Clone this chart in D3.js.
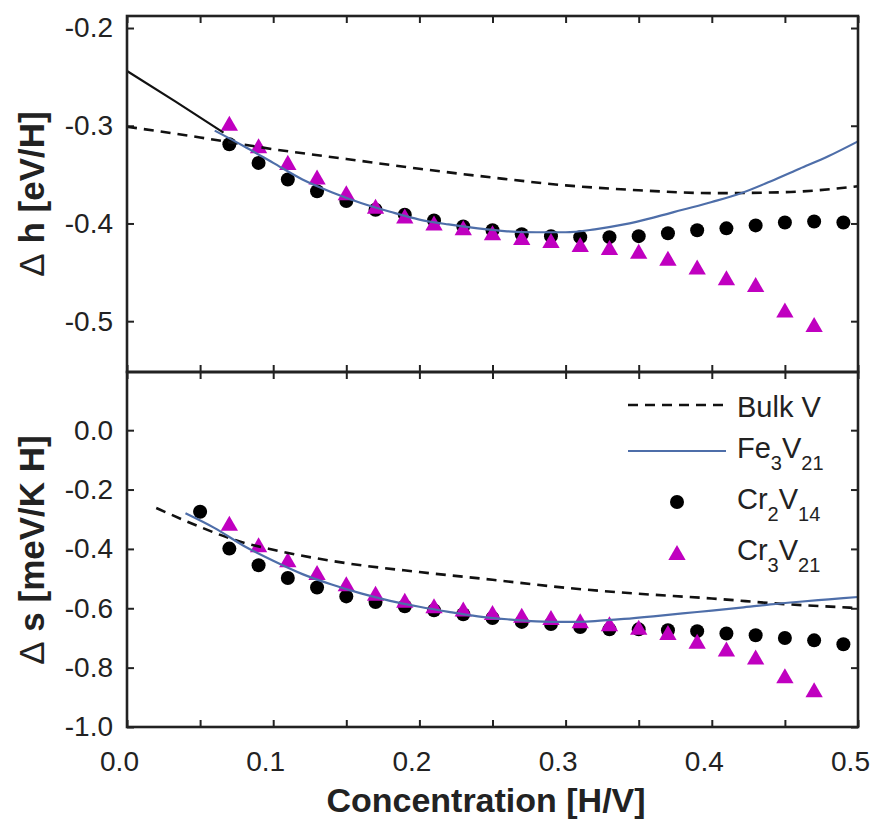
<!DOCTYPE html>
<html lang="en">
<head>
    <meta charset="UTF-8">
    <title>Hydrogen enthalpy and entropy</title>
    <script src="https://cdn.jsdelivr.net/npm/d3@7"></script>
    <style>
        body {
            margin: 0;
            background: #fff;
        }
        svg text {
            font-family: Arial, "Liberation Sans", sans-serif;
            fill: #222;
        }
    </style>
</head>
<body>
    <svg id="chart" width="874" height="821"></svg>

    <script>
        // point concentrations [H/V]
        const xCr2Top = [0.07, 0.09, 0.11, 0.13, 0.15, 0.17, 0.19, 0.21, 0.23, 0.25, 0.27,
                         0.29, 0.31, 0.33, 0.35, 0.37, 0.39, 0.41, 0.43, 0.45, 0.47, 0.49];
        const xCr3Top = [0.07, 0.09, 0.11, 0.13, 0.15, 0.17, 0.19, 0.21, 0.23, 0.25, 0.27,
                         0.29, 0.31, 0.33, 0.35, 0.37, 0.39, 0.41, 0.43, 0.45, 0.47];
        const xCr2Bot = [0.05, 0.07, 0.09, 0.11, 0.13, 0.15, 0.17, 0.19, 0.21, 0.23, 0.25, 0.27,
                         0.29, 0.31, 0.33, 0.35, 0.37, 0.39, 0.41, 0.43, 0.45, 0.47, 0.49];
        const xCr3Bot = xCr3Top;

        // delta h [eV/H]
        const hCr2 = [-0.319, -0.338, -0.355, -0.367, -0.377, -0.386, -0.391, -0.397, -0.403, -0.407, -0.411,
                      -0.413, -0.414, -0.414, -0.413, -0.410, -0.407, -0.405, -0.402, -0.399, -0.398, -0.399];
        const hCr3 = [-0.298, -0.321, -0.338, -0.353, -0.369, -0.383, -0.393, -0.400, -0.405, -0.410, -0.415,
                      -0.418, -0.422, -0.425, -0.429, -0.436, -0.445, -0.456, -0.463, -0.489, -0.504];
        const hBulkX = [0, 0.05, 0.1, 0.15, 0.2, 0.25, 0.3, 0.35, 0.4, 0.45, 0.5];
        const hBulk  = [-0.301, -0.312, -0.324, -0.334, -0.344, -0.353, -0.361, -0.366, -0.369, -0.368, -0.362];
        const hFeX = [0.06, 0.08, 0.10, 0.12, 0.14, 0.16, 0.18, 0.20, 0.22, 0.24, 0.26, 0.28,
                      0.30, 0.32, 0.34, 0.36, 0.38, 0.40, 0.42, 0.44, 0.46, 0.48, 0.50];
        const hFe  = [-0.305, -0.321, -0.338, -0.355, -0.368, -0.379, -0.388, -0.396, -0.401, -0.405, -0.408, -0.409,
                      -0.409, -0.406, -0.401, -0.394, -0.386, -0.378, -0.369, -0.357, -0.344, -0.331, -0.316];
        const hExtX = [0, 0.033, 0.066];
        const hExt  = [-0.244, -0.275, -0.307];

        // delta s [meV/K H]
        const sCr2 = [-0.275, -0.399, -0.455, -0.498, -0.530, -0.560, -0.579, -0.593, -0.607, -0.620, -0.633, -0.646,
                      -0.653, -0.663, -0.671, -0.671, -0.674, -0.677, -0.685, -0.691, -0.700, -0.708, -0.721];
        const sCr3 = [-0.315, -0.388, -0.438, -0.481, -0.519, -0.551, -0.575, -0.593, -0.604, -0.616, -0.625,
                      -0.633, -0.644, -0.654, -0.666, -0.683, -0.713, -0.739, -0.766, -0.829, -0.876];
        const sBulkX = [0.02, 0.05, 0.075, 0.1, 0.15, 0.2, 0.25, 0.3, 0.35, 0.4, 0.45, 0.5];
        const sBulk  = [-0.262, -0.326, -0.372, -0.403, -0.448, -0.478, -0.504, -0.531, -0.551, -0.567, -0.586, -0.599];
        const sFeX = [0.04, 0.06, 0.08, 0.10, 0.12, 0.14, 0.16, 0.18, 0.20, 0.22, 0.24, 0.26,
                      0.28, 0.30, 0.32, 0.34, 0.36, 0.38, 0.40, 0.42, 0.44, 0.46, 0.48, 0.50];
        const sFe  = [-0.280, -0.330, -0.390, -0.440, -0.485, -0.520, -0.550, -0.575, -0.595, -0.612, -0.627, -0.637,
                      -0.644, -0.646, -0.643, -0.636, -0.627, -0.617, -0.608, -0.598, -0.587, -0.578, -0.570, -0.562];

        const xTicks = [0, 0.05, 0.1, 0.15, 0.2, 0.25, 0.3, 0.35, 0.4, 0.45, 0.5];
        const hTicks = [-0.2, -0.3, -0.4, -0.5];
        const sTicks = [0.0, -0.2, -0.4, -0.6, -0.8, -1.0];

        const legendItems = [
            { name: "Bulk V", sub: [], kind: "dash" },
            { name: "Fe", sub: ["3", "V", "21"], kind: "line" },
            { name: "Cr", sub: ["2", "V", "14"], kind: "circle" },
            { name: "Cr", sub: ["3", "V", "21"], kind: "triangle" }
        ];

        const magenta = "#c000c0";
        const blue = "#4e6ea9";
        const ink = "#222";

        const svg = d3.select("#chart");
        const left = 127, right = 858;
        const topPanel = { y0: 16, y1: 372 };
        const botPanel = { y0: 372, y1: 727 };

        const x = d3.scaleLinear().domain([0, 0.5]).range([left, right]);
        const yH = d3.scaleLinear().domain([-0.552, -0.1877]).range([topPanel.y1, topPanel.y0]);
        const yS = d3.scaleLinear().domain([-1.0, 0.196]).range([botPanel.y1, botPanel.y0]);

        const zip = (xs, ys) => xs.map((v, i) => [v, ys[i]]);
        const triSize = 130;

        function drawPanel(panel, y, yTicks, series, showXLabels) {
            const g = svg.append("g");

            // inward ticks on all four sides
            g.append("g")
                .attr("transform", `translate(${left},0)`)
                .call(d3.axisLeft(y).tickValues(yTicks).tickFormat(d3.format(".1f"))
                    .tickSizeInner(-7).tickSizeOuter(0).tickPadding(14))
                .call(a => a.select(".domain").remove());
            g.append("g")
                .attr("transform", `translate(${right},0)`)
                .call(d3.axisRight(y).tickValues(yTicks).tickFormat("")
                    .tickSizeInner(-7).tickSizeOuter(0))
                .call(a => a.select(".domain").remove());
            g.append("g")
                .attr("transform", `translate(0,${panel.y0})`)
                .call(d3.axisTop(x).tickValues(xTicks).tickFormat("")
                    .tickSizeInner(-7).tickSizeOuter(0))
                .call(a => a.select(".domain").remove());
            const xb = g.append("g")
                .attr("transform", `translate(0,${panel.y1})`)
                .call(d3.axisBottom(x).tickValues(xTicks)
                    .tickFormat(d => (showXLabels && Math.round(d * 100) % 10 === 0) ? d3.format(".1f")(d) : "")
                    .tickSizeInner(-7).tickSizeOuter(0).tickPadding(24))
                .call(a => a.select(".domain").remove());
            xb.selectAll("text").attr("dx", -8);

            g.selectAll(".tick line").attr("stroke", ink).attr("stroke-width", 2);
            g.selectAll(".tick text").attr("font-size", 28).attr("fill", ink)
                .attr("font-family", "Arial, 'Liberation Sans', sans-serif");

            const plot = g.append("g");
            const line = d3.line().x(d => x(d[0])).y(d => y(d[1])).curve(d3.curveMonotoneX);

            // markers first, curves on top
            plot.selectAll("circle")
                .data(series.circles)
                .join("circle")
                .attr("cx", d => x(d[0]))
                .attr("cy", d => y(d[1]))
                .attr("r", 7)
                .attr("fill", "#000");
            plot.selectAll("path.tri")
                .data(series.triangles)
                .join("path")
                .attr("class", "tri")
                .attr("d", d3.symbol(d3.symbolTriangle, triSize))
                .attr("transform", d => `translate(${x(d[0])},${y(d[1]) + 2})`)
                .attr("fill", magenta);

            plot.append("path")
                .datum(series.bulk)
                .attr("d", line)
                .attr("fill", "none")
                .attr("stroke", "#111")
                .attr("stroke-width", 2.6)
                .attr("stroke-dasharray", "10,7");
            if (series.ext) {
                plot.append("path")
                    .datum(series.ext)
                    .attr("d", d3.line().x(d => x(d[0])).y(d => y(d[1])))
                    .attr("fill", "none")
                    .attr("stroke", "#111")
                    .attr("stroke-width", 2.2);
            }
            plot.append("path")
                .datum(series.fe)
                .attr("d", line)
                .attr("fill", "none")
                .attr("stroke", blue)
                .attr("stroke-width", 2.2);

            // frame
            g.append("rect")
                .attr("x", left).attr("y", panel.y0)
                .attr("width", right - left).attr("height", panel.y1 - panel.y0)
                .attr("fill", "none").attr("stroke", ink).attr("stroke-width", 2.6);
        }

        drawPanel(topPanel, yH, hTicks, {
            circles: zip(xCr2Top, hCr2),
            triangles: zip(xCr3Top, hCr3),
            bulk: zip(hBulkX, hBulk),
            fe: zip(hFeX, hFe),
            ext: zip(hExtX, hExt)
        }, false);

        drawPanel(botPanel, yS, sTicks, {
            circles: zip(xCr2Bot, sCr2),
            triangles: zip(xCr3Bot, sCr3),
            bulk: zip(sBulkX, sBulk),
            fe: zip(sFeX, sFe)
        }, true);

        // minus signs as plain hyphens, like the original
        svg.selectAll(".tick text").each(function () {
            const t = d3.select(this);
            t.text(t.text().replace("−", "-"));
        });

        // axis titles
        function yTitle(cx, cy, rest) {
            const t = svg.append("text")
                .attr("transform", `translate(${cx},${cy}) rotate(-90)`)
                .attr("text-anchor", "middle")
                .attr("font-size", 35)
                .attr("fill", ink);
            t.append("tspan").attr("font-weight", "normal").text("Δ");
            t.append("tspan").attr("font-weight", "bold").text(" " + rest);
        }
        yTitle(44, 194, "h [eV/H]");
        yTitle(44, 550, "s [meV/K H]");

        svg.append("text")
            .attr("x", 486).attr("y", 812)
            .attr("text-anchor", "middle")
            .attr("font-size", 34)
            .attr("font-weight", "bold")
            .attr("fill", ink)
            .text("Concentration [H/V]");

        // legend
        const legRowY = [405, 451, 502, 553];
        const legBase = [417, 458, 509, 560];
        const lg = svg.append("g");
        legendItems.forEach((item, i) => {
            const yy = legRowY[i];
            if (item.kind === "dash") {
                lg.append("line").attr("x1", 628).attr("x2", 726).attr("y1", yy).attr("y2", yy)
                    .attr("stroke", "#111").attr("stroke-width", 2.6).attr("stroke-dasharray", "10,7");
            } else if (item.kind === "line") {
                lg.append("line").attr("x1", 628).attr("x2", 726).attr("y1", yy).attr("y2", yy)
                    .attr("stroke", blue).attr("stroke-width", 2.2);
            } else if (item.kind === "circle") {
                lg.append("circle").attr("cx", 677).attr("cy", yy).attr("r", 7).attr("fill", "#000");
            } else {
                lg.append("path").attr("d", d3.symbol(d3.symbolTriangle, triSize))
                    .attr("transform", `translate(677,${yy + 2})`).attr("fill", magenta);
            }
            const t = lg.append("text")
                .attr("x", 737).attr("y", legBase[i])
                .attr("font-size", 29)
                .attr("fill", ink);
            t.append("tspan").text(item.name);
            if (item.sub.length) {
                t.append("tspan").attr("font-size", 20).attr("dy", 12).text(item.sub[0]);
                t.append("tspan").attr("font-size", 29).attr("dy", -12).text(item.sub[1]);
                t.append("tspan").attr("font-size", 20).attr("dy", 12).text(item.sub[2]);
            }
        });
    </script>
</body>
</html>
